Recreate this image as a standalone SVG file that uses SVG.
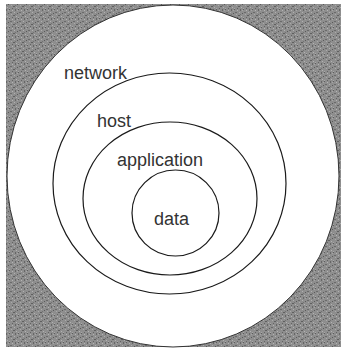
<svg xmlns="http://www.w3.org/2000/svg" width="341" height="350" viewBox="0 0 341 350">
<style>
.ring{fill:none;stroke:#1a1a1a;stroke-width:1.2}
.lbl{font-family:"Liberation Sans",Arial,sans-serif;font-size:18px;fill:#333}
</style>
<defs>
<pattern id="stip" width="9" height="9" patternUnits="userSpaceOnUse">
<rect width="9" height="9" fill="#8e8e8e"/>
<rect x="0" y="0" width="1" height="1" fill="#5c5c5c"/>
<rect x="3" y="1" width="1" height="1" fill="#b4b4b4"/>
<rect x="6" y="0" width="1" height="2" fill="#666"/>
<rect x="1" y="3" width="2" height="1" fill="#6a6a6a"/>
<rect x="5" y="3" width="1" height="1" fill="#b0b0b0"/>
<rect x="8" y="4" width="1" height="1" fill="#5a5a5a"/>
<rect x="2" y="5" width="1" height="1" fill="#aaa"/>
<rect x="4" y="6" width="2" height="1" fill="#606060"/>
<rect x="7" y="7" width="1" height="1" fill="#b2b2b2"/>
<rect x="0" y="8" width="1" height="1" fill="#a8a8a8"/>
<rect x="3" y="8" width="1" height="1" fill="#626262"/>
<rect x="8" y="1" width="1" height="1" fill="#a6a6a6"/>
<rect x="6" y="5" width="1" height="1" fill="#737373"/>
</pattern>
</defs>
<rect width="341" height="350" fill="#fff"/>
<rect x="6" y="4" width="335" height="343" fill="url(#stip)"/>
<g id="network">
<ellipse cx="173" cy="176" rx="166" ry="171" fill="#fff" stroke="#333" stroke-width="1"/>
<text class="lbl" x="64" y="79">network</text>
</g>
<g id="host">
<ellipse class="ring" cx="169.5" cy="183.5" rx="116.5" ry="110.5"/>
<text class="lbl" x="97" y="127">host</text>
</g>
<g id="application">
<ellipse class="ring" cx="170" cy="198.5" rx="87" ry="76.5"/>
<text class="lbl" x="117" y="166">application</text>
</g>
<g id="data">
<ellipse class="ring" cx="175.5" cy="213" rx="43.5" ry="43"/>
<text class="lbl" x="154" y="225">data</text>
</g>
<g id="connectors"/>
</svg>
